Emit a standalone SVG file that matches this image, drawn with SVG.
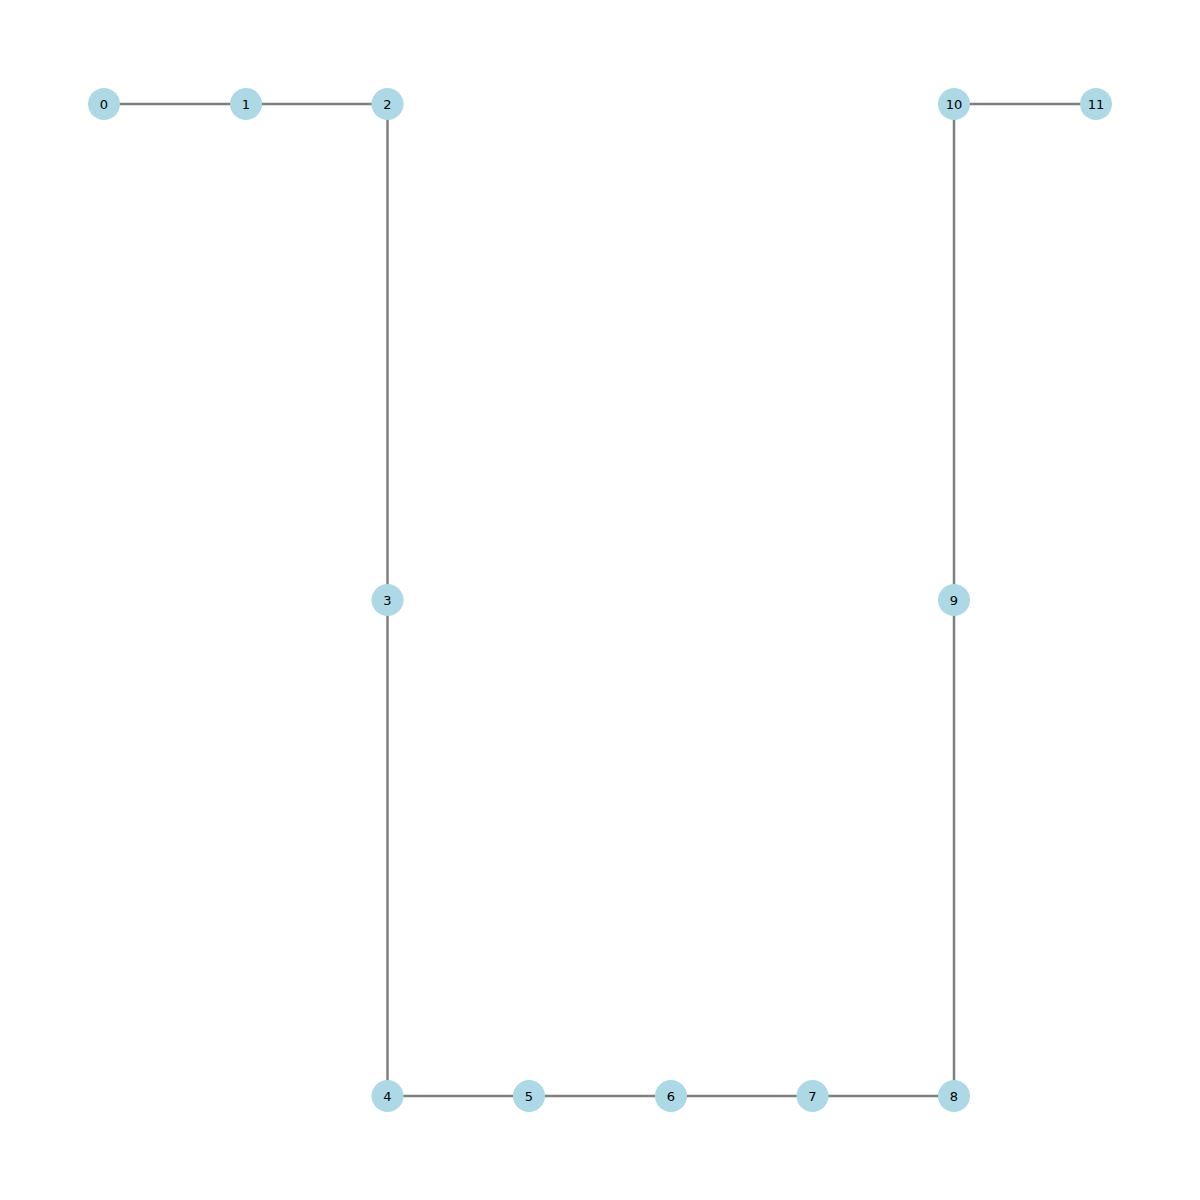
<svg xmlns="http://www.w3.org/2000/svg" width="1200" height="1200" viewBox="0 0 1200 1200">
<style>
.e{stroke:#808080;stroke-width:2.5;fill:none}
.n circle{fill:#ADD8E6}
.n text{font-family:"DejaVu Sans",sans-serif;font-size:13px;fill:#000;text-anchor:middle;dominant-baseline:central}
</style>
<rect width="1200" height="1200" fill="#fff"/>
<g id="edges">
<line class="e" x1="104" y1="104" x2="246" y2="104"/>
<line class="e" x1="246" y1="104" x2="387.5" y2="104"/>
<line class="e" x1="387.5" y1="104" x2="387.5" y2="600"/>
<line class="e" x1="387.5" y1="600" x2="387.5" y2="1096"/>
<line class="e" x1="387.5" y1="1096" x2="529" y2="1096"/>
<line class="e" x1="529" y1="1096" x2="671" y2="1096"/>
<line class="e" x1="671" y1="1096" x2="812.5" y2="1096"/>
<line class="e" x1="812.5" y1="1096" x2="954" y2="1096"/>
<line class="e" x1="954" y1="1096" x2="954" y2="600"/>
<line class="e" x1="954" y1="600" x2="954" y2="104"/>
<line class="e" x1="954" y1="104" x2="1096" y2="104"/>
</g>
<g id="node0" class="n"><circle cx="104" cy="104" r="16"/><text x="104" y="104">0</text></g>
<g id="node1" class="n"><circle cx="246" cy="104" r="16"/><text x="246" y="104">1</text></g>
<g id="node2" class="n"><circle cx="387.5" cy="104" r="16"/><text x="387.5" y="104">2</text></g>
<g id="node3" class="n"><circle cx="387.5" cy="600" r="16"/><text x="387.5" y="600">3</text></g>
<g id="node4" class="n"><circle cx="387.5" cy="1096" r="16"/><text x="387.5" y="1096">4</text></g>
<g id="node5" class="n"><circle cx="529" cy="1096" r="16"/><text x="529" y="1096">5</text></g>
<g id="node6" class="n"><circle cx="671" cy="1096" r="16"/><text x="671" y="1096">6</text></g>
<g id="node7" class="n"><circle cx="812.5" cy="1096" r="16"/><text x="812.5" y="1096">7</text></g>
<g id="node8" class="n"><circle cx="954" cy="1096" r="16"/><text x="954" y="1096">8</text></g>
<g id="node9" class="n"><circle cx="954" cy="600" r="16"/><text x="954" y="600">9</text></g>
<g id="node10" class="n"><circle cx="954" cy="104" r="16"/><text x="954" y="104">10</text></g>
<g id="node11" class="n"><circle cx="1096" cy="104" r="16"/><text x="1096" y="104">11</text></g>
</svg>
